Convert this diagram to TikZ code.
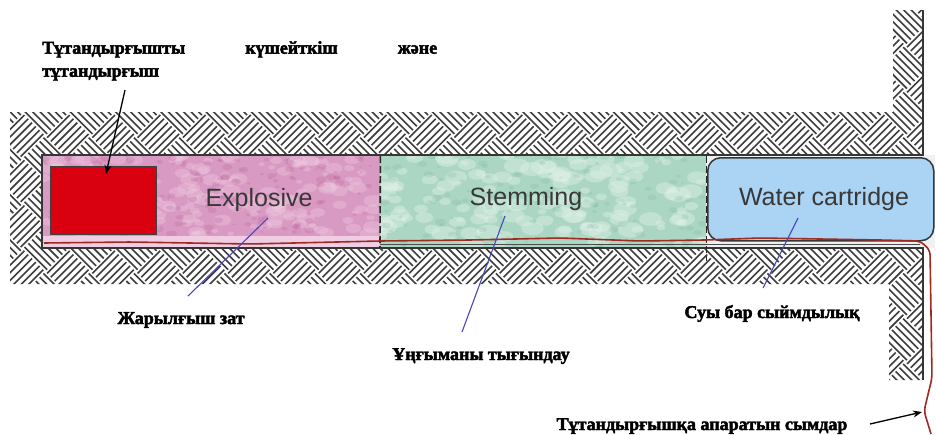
\documentclass[tikz,border=0pt]{standalone}
\usepackage{fontspec}
\setmainfont{Liberation Serif}
\newfontfamily\labelserif{Liberation Serif Bold}[FakeBold=2.5]
\newfontfamily\labelsans{Liberation Sans}
\usetikzlibrary{arrows.meta}

\definecolor{hatchink}{HTML}{3E3E3E}
\definecolor{holeedge}{HTML}{363636}
\definecolor{holebg}{HTML}{EEF1F0}
\definecolor{expbase}{HTML}{D89AC3}
\definecolor{explight}{HTML}{F0CDE2}
\definecolor{expdark}{HTML}{B0508A}
\definecolor{stembase}{HTML}{ABD6C3}
\definecolor{stemlight}{HTML}{E2F2EA}
\definecolor{stemdark}{HTML}{6AAE90}
\definecolor{waterfill}{HTML}{AAD3F4}
\definecolor{primerred}{HTML}{D9000F}
\definecolor{wirered}{HTML}{9E2A22}
\definecolor{leaderblue}{HTML}{4848B8}

\tikzset{
  rocklines/.style={draw=hatchink, line width=1.6pt},
  holeline/.style={draw=holeedge, line width=1.6pt},
  charge/.style={inner sep=0, anchor=north west},
  sepline/.style={draw=black!85, line width=1.6pt, dash pattern=on 7pt off 3pt},
  sanslabel/.style={font=\labelsans\fontsize{25}{28}\selectfont, text=black!78, inner sep=0, anchor=base},
  seriflabel/.style={font=\labelserif\fontsize{18}{23}\selectfont, inner sep=0},
  leader/.style={draw=leaderblue, line width=1.1pt},
  pointer/.style={draw=black, line width=1.3pt, -{Stealth[length=9pt,width=7pt]}},
  wire/.style={draw=wirered, line width=1.6pt, rounded corners=5pt},
}

\begin{document}
\begin{tikzpicture}[x=1pt,y=-1pt]
\useasboundingbox (0,0) rectangle (936,434);
\fill[white] (0,0) rectangle (936,434);

% rock: basket-weave hatching clipped to the ground around the borehole
\begin{scope}
  \clip (10,112) -- (893,112) -- (893,10) -- (923,10) -- (923,155) -- (42,155)
        -- (42,248) -- (923,248) -- (923,380) -- (889,380) -- (889,284) -- (10,284) -- cycle;
  \begin{scope}[rotate=45]
    \foreach \j in {-32,...,31} {
      \pgfmathsetmacro\ph{mod(abs(\j),2)*32}
      \foreach \k in {0,...,5} {
        \draw[rocklines, dash pattern=on 32pt off 32pt, dash phase=\ph pt]
          (-1024,{\j*32+\k*5.333+2.667}) -- (1024,{\j*32+\k*5.333+2.667});
      }
    }
    \foreach \i in {-32,...,31} {
      \pgfmathsetmacro\ph{(1-mod(abs(\i),2))*32}
      \foreach \k in {0,...,5} {
        \draw[rocklines, dash pattern=on 32pt off 32pt, dash phase=\ph pt]
          ({\i*32+\k*5.333+2.667},-1024) -- ({\i*32+\k*5.333+2.667},1024);
      }
    }
  \end{scope}
\end{scope}

% borehole
\fill[holebg] (42,155) rectangle (935,248);

% explosive column
\node[charge, fill=expbase, minimum width=337pt, minimum height=80pt] (explosive) at (43,156) {};
\begin{scope}
  \clip (explosive.north west) rectangle (explosive.south east);
  \pgfmathsetseed{3}
  \foreach \n in {1,...,160} {
    \pgfmathsetmacro\bx{43+337*rnd}
    \pgfmathsetmacro\by{156+80*rnd}
    \pgfmathsetmacro\br{3+7*rnd}
    \fill[explight, opacity=.35] (\bx,\by) ellipse[x radius=\br pt, y radius=0.6*\br pt];
  }
  \foreach \n in {1,...,160} {
    \pgfmathsetmacro\bx{43+337*rnd}
    \pgfmathsetmacro\by{156+80*rnd}
    \pgfmathsetmacro\br{1.5+4*rnd}
    \fill[expdark, opacity=.2] (\bx,\by) ellipse[x radius=\br pt, y radius=0.6*\br pt];
  }
\end{scope}
\fill[explight] (43,236) rectangle (380,247);

% stemming column
\node[charge, fill=stembase, minimum width=326pt, minimum height=91pt] (stemming) at (380,156) {};
\begin{scope}
  \clip (stemming.north west) rectangle (stemming.south east);
  \pgfmathsetseed{11}
  \foreach \n in {1,...,150} {
    \pgfmathsetmacro\bx{380+326*rnd}
    \pgfmathsetmacro\by{156+91*rnd}
    \pgfmathsetmacro\br{4+9*rnd}
    \fill[stemlight, opacity=.4] (\bx,\by) ellipse[x radius=\br pt, y radius=0.6*\br pt];
  }
  \foreach \n in {1,...,130} {
    \pgfmathsetmacro\bx{380+326*rnd}
    \pgfmathsetmacro\by{156+91*rnd}
    \pgfmathsetmacro\br{1.5+4*rnd}
    \fill[stemdark, opacity=.18] (\bx,\by) ellipse[x radius=\br pt, y radius=0.6*\br pt];
  }
\end{scope}

% borehole walls
\draw[holeline] (923,10) -- (923,155) -- (42,155) -- (42,248) -- (923,248) -- (923,380);

% water cartridge
\node[charge, draw=holeedge, line width=1.5pt, fill=waterfill, rounded corners=13pt,
      minimum width=226pt, minimum height=83pt] (water) at (707,157) {};

% boundaries between the charge parts
\draw[sepline] (explosive.north east) -- (stemming.south west);
\draw[sepline] (stemming.north east) -- ([yshift=-14pt]stemming.south east);

% primer and detonator
\node[charge, fill=primerred, draw=black!75, line width=1.2pt,
      minimum width=106pt, minimum height=68pt] (primer) at (50,166) {};

% firing wires along the hole and up the shaft
\draw[wire] (44,243) -- (130,242) -- (250,244) -- (380,241) -- (470,240) -- (560,238)
  -- (640,241) -- (705,240) -- (760,238) -- (880,240) -- (920,241) -- (930,250)
  -- (932,378) -- (924,411) -- (931,434);
\draw[draw=black!70, line width=0.9pt] (380,244) -- (920,244);

% texts inside the hole
\node[sanslabel] (txtExp) at (259,206) {Explosive};
\node[sanslabel] (txtStem) at (526,205) {Stemming};
\node[sanslabel] (txtWater) at (824,205) {Water cartridge};

% labels
\node[seriflabel, anchor=north west, align=left] (lblPrimer) at (42,41)
  {\makebox[395pt][s]{Тұтандырғышты\hfill күшейткіш\hfill және}\\тұтандырғыш};
\node[seriflabel, anchor=base] (lblExp) at (181,324) {Жарылғыш зат};
\node[seriflabel, anchor=base] (lblStem) at (481,360) {Ұңғыманы тығындау};
\node[seriflabel, anchor=base] (lblWater) at (772,318) {Суы бар сыймдылық};
\node[seriflabel, anchor=base] (lblWire) at (702,430) {Тұтандырғышқа апаратын сымдар};

% leader lines
\coordinate (primerTail) at (125,90);
\coordinate (primerTip) at (106,174);
\draw[pointer] (primerTail) -- (primerTip);

\coordinate (expPt) at (268,218);
\coordinate (expEnd) at (188,296);
\draw[leader] (expPt) -- (expEnd);

\coordinate (stemPt) at (505,216);
\coordinate (stemEnd) at (462,332);
\draw[leader] (stemPt) -- (stemEnd);

\coordinate (waterPt) at (798,218);
\coordinate (waterEnd) at (763,288);
\draw[leader] (waterPt) -- (waterEnd);

\coordinate (wireTail) at (870,424);
\coordinate (wireTip) at (922,412);
\draw[pointer] (wireTail) -- (wireTip);
\end{tikzpicture}
\end{document}
